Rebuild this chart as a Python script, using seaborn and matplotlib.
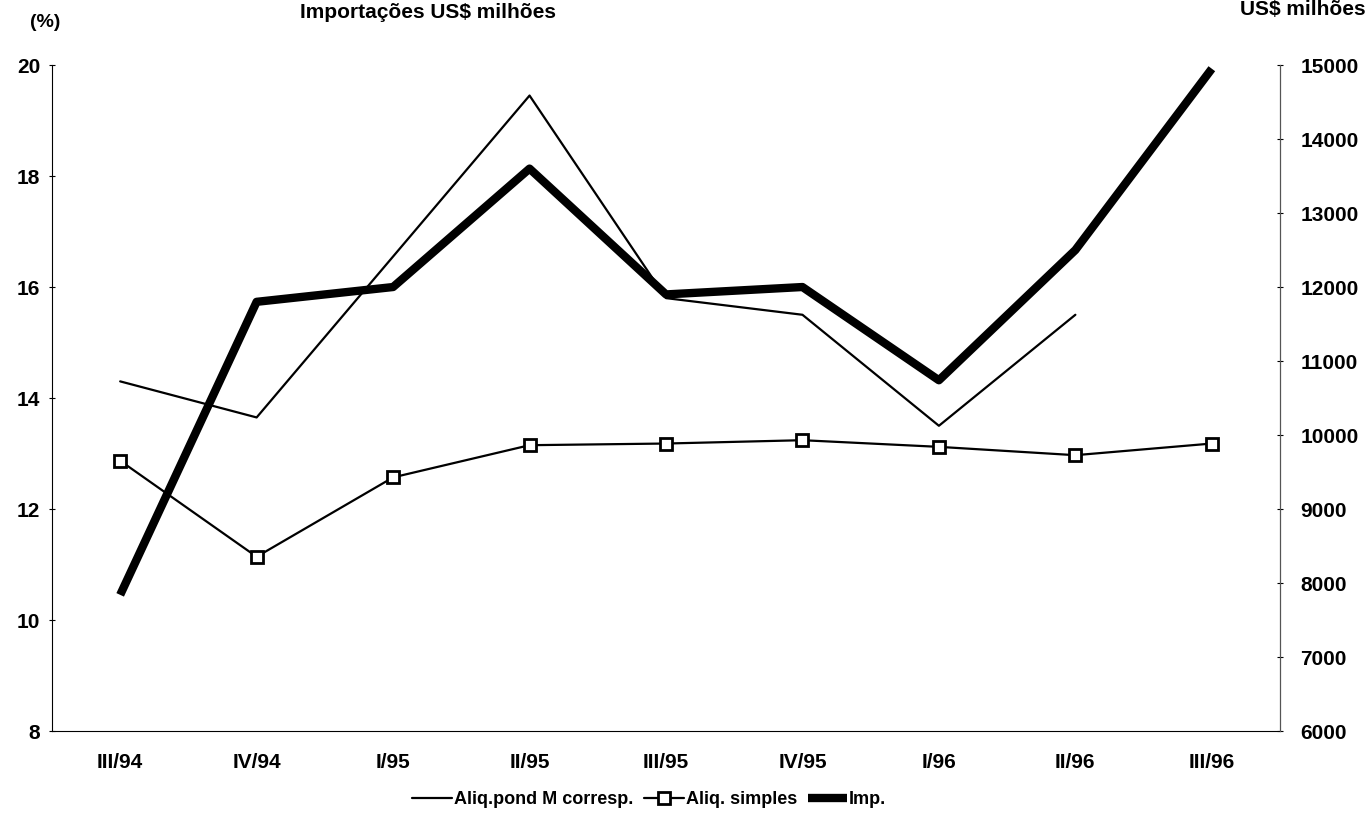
import numpy as np
import pandas as pd
import seaborn as sns
import matplotlib.pyplot as plt

quarters = ['III/94', 'IV/94', 'I/95', 'II/95', 'III/95', 'IV/95', 'I/96', 'II/96', 'III/96']
aliq_pond = [14.3, 13.65, 16.55, 19.45, 15.8, 15.5, 13.5, 15.5, np.nan]
aliq_simples = [12.87, 11.14, 12.57, 13.15, 13.18, 13.24, 13.12, 12.97, 13.18]
imp = [7840, 11800, 12000, 13600, 11900, 12000, 10740, 12500, 14950]

df = pd.DataFrame({'quarter': quarters, 'pond': aliq_pond,
                   'simples': aliq_simples, 'imp': imp})
df['x'] = np.arange(len(quarters))

sns.set_style('white')
plt.rcParams['font.family'] = ['Liberation Sans', 'DejaVu Sans']
plt.rcParams['font.weight'] = 'bold'
plt.rcParams['font.size'] = 15
plt.rcParams['text.color'] = 'black'
plt.rcParams['xtick.color'] = 'black'
plt.rcParams['ytick.color'] = 'black'

fig, ax = plt.subplots(figsize=(13.67, 8.21), dpi=100)
fig.subplots_adjust(left=0.038, right=0.9364, top=0.9208, bottom=0.1096)
ax2 = ax.twinx()

sns.lineplot(data=df, x='x', y='pond', ax=ax, color='black', lw=1.6,
             label='Aliq.pond M corresp.', legend=False)
sns.lineplot(data=df, x='x', y='simples', ax=ax, color='black', lw=1.6,
             marker='s', markersize=11, markerfacecolor='white',
             markeredgecolor='black', markeredgewidth=2,
             label='Aliq. simples', legend=False)
sns.lineplot(data=df, x='x', y='imp', ax=ax2, color='black', lw=6,
             solid_capstyle='butt', label='Imp.', legend=False)

ax.set_xlim(-0.5, len(quarters) - 0.5)
ax.set_ylim(8, 20)
ax2.set_ylim(6000, 15000)
ax.set_yticks(np.arange(8, 21, 2))
ax2.set_yticks(np.arange(6000, 15001, 1000))
ax.set_xticks(df['x'])
ax.set_xticklabels(quarters)
ax.set_xticks(np.arange(0.5, len(quarters) - 1, 1), minor=True)
ax.tick_params(axis='x', which='major', length=0, pad=16)
ax.tick_params(axis='x', which='minor', length=8, direction='inout', width=1)
ax.tick_params(axis='y', length=5, direction='inout', pad=6)
ax2.tick_params(axis='y', length=5, direction='inout', pad=12)
ax.set_xlabel('')
ax.set_ylabel('')
ax2.set_ylabel('')

for a in (ax, ax2):
    a.spines['top'].set_visible(False)
ax.spines['left'].set_color('black')
ax.spines['bottom'].set_color('black')
ax2.spines['right'].set_color('#555555')
ax2.spines['left'].set_visible(False)
ax2.spines['bottom'].set_visible(False)

fig.text(0.022, 0.972, '(%)', ha='left', va='center', fontsize=14)
fig.text(0.313, 0.985, 'Importações US$ milhões', ha='center', va='center', fontsize=15)
fig.text(0.953, 0.988, 'US$ milhões', ha='center', va='center', fontsize=15)

h1, l1 = ax.get_legend_handles_labels()
h2, l2 = ax2.get_legend_handles_labels()
h1[1].set_markersize(8)
fig.legend(h1 + h2, l1 + l2, loc='center', bbox_to_anchor=(0.475, 0.026), ncol=3,
           frameon=False, handlelength=2.2, handletextpad=0.1, columnspacing=0.6,
           fontsize=13)

plt.savefig('out.png')
plt.close()
